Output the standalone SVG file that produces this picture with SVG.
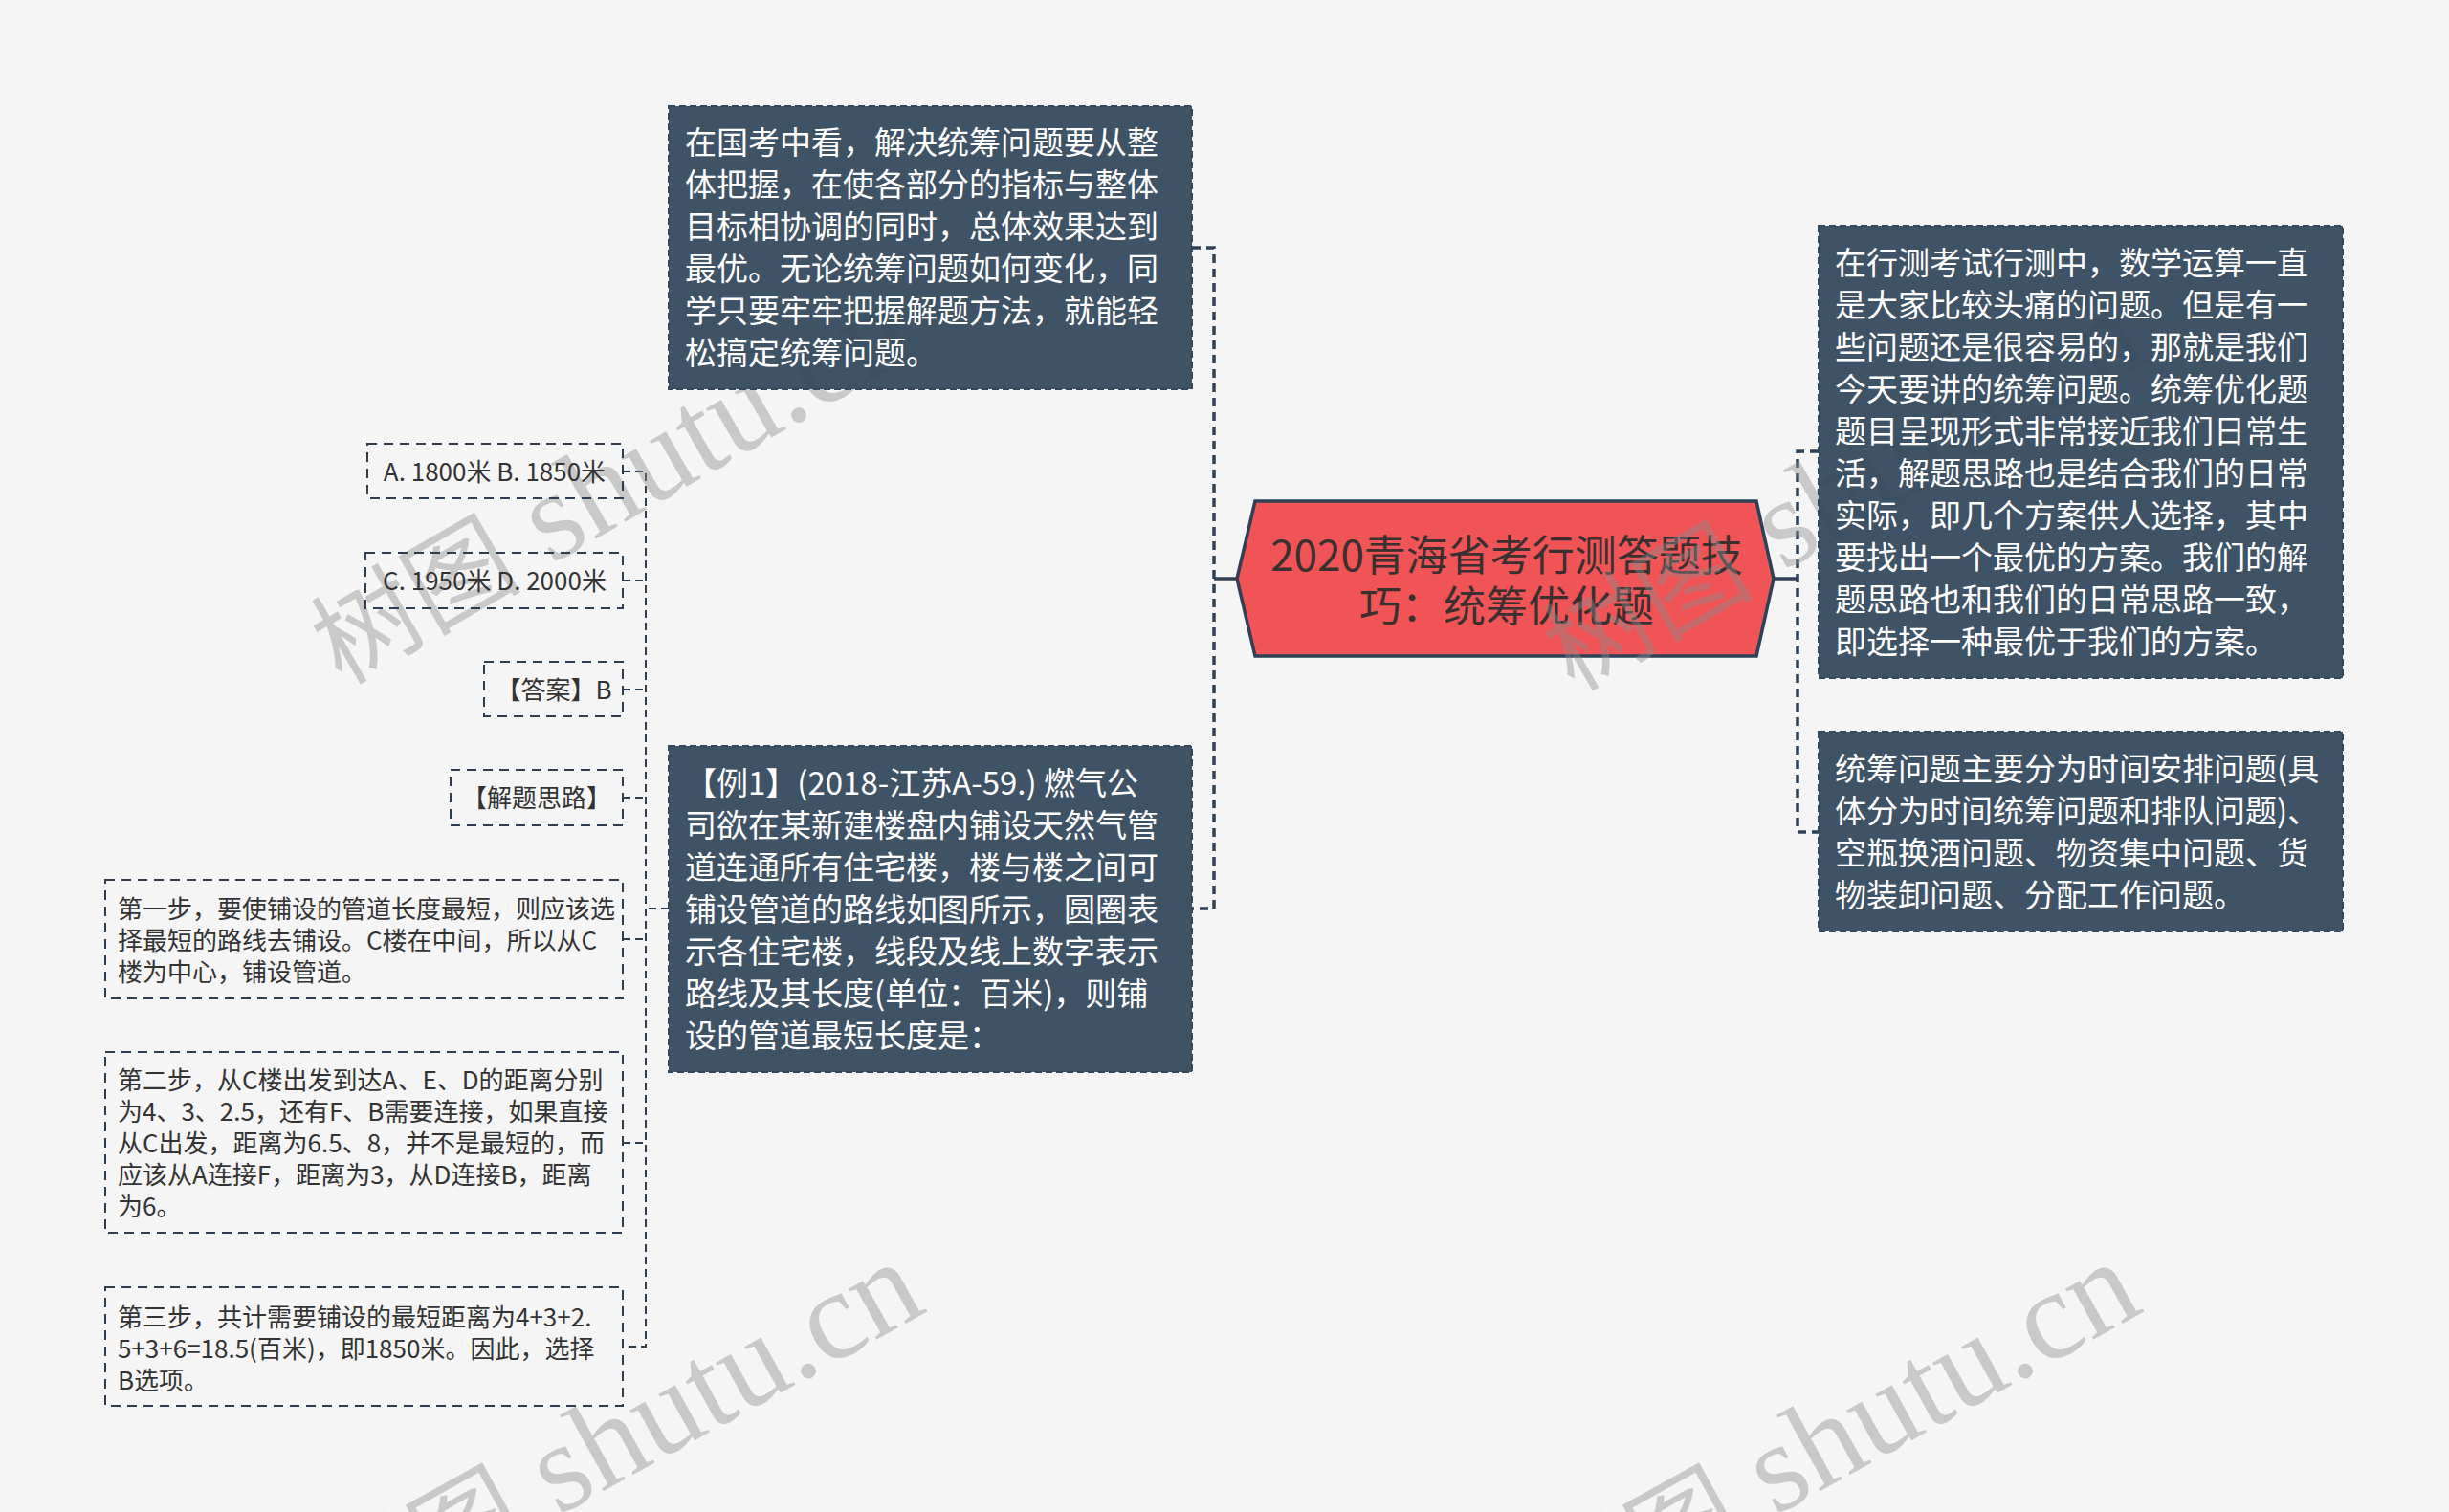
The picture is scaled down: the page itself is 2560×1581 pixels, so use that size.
<svg xmlns="http://www.w3.org/2000/svg" width="2560" height="1581" viewBox="0 0 2560 1581">
<style>
.bg{fill:#f5f5f5}
.dark rect{fill:#33485d;fill-opacity:0.94;stroke:#33485d;stroke-width:2;stroke-dasharray:7 4}
.dark text{font-family:"Noto Sans CJK SC","Noto Sans",sans-serif;font-size:33px;fill:#ffffff}
.light rect{fill:none;stroke:#2f3e4e;stroke-width:2;stroke-dasharray:10 7}
.light text{font-family:"Noto Sans CJK SC","Noto Sans",sans-serif;font-size:26px;fill:#333333}
.root polygon{fill:#f05456;stroke:#2e4156;stroke-width:3.5}
.root text{font-family:"Noto Sans CJK SC","Noto Sans",sans-serif;font-size:44px;fill:#3a3030;text-anchor:middle}
.c1{fill:none;stroke:#2e4156;stroke-width:3.5;stroke-dasharray:9 6}
.c2{fill:none;stroke:#2f3e4e;stroke-width:2;stroke-dasharray:8 5}
.solid{fill:none;stroke:#2e4156;stroke-width:3.5}
.wm{font-family:"Liberation Serif","Noto Sans CJK SC",serif;font-size:110px;fill:#8c8c8c;fill-opacity:0.42}
.wm .lat{font-size:132px}
</style>
<rect class="bg" x="0" y="0" width="2560" height="1581"/>

<g id="connectors">
  <path class="solid" d="M1269,605 H1293"/>
  <path class="c1" d="M1246,259 H1269 V950 H1246"/>
  <path class="solid" d="M1854,605 H1879"/>
  <path class="c1" d="M1901,472 H1879 V870 H1901"/>
  <path class="c2" d="M699,950 H675"/>
  <path class="c2" d="M651,493 H675 V1408 H651"/>
  <path class="c2" d="M651,607 H675"/>
  <path class="c2" d="M651,721 H675"/>
  <path class="c2" d="M651,834 H675"/>
  <path class="c2" d="M651,982 H675"/>
  <path class="c2" d="M651,1195 H675"/>
</g>

<g id="root" class="root">
  <polygon points="1293,605 1312,524 1836,524 1854,605 1836,686 1312,686"/>
  <text x="1575" y="597">2020青海省考行测答题技</text>
  <text x="1575" y="650">巧：统筹优化题</text>
</g>

<g id="watermarks">
  <text class="wm" transform="translate(357,717) rotate(-30)">树图<tspan class="lat"> shutu.cn</tspan></text>
  <text class="wm" transform="translate(1645,724) rotate(-30)">树图<tspan class="lat"> shutu.cn</tspan></text>
  <text class="wm" transform="translate(362,1708) rotate(-29)">树图<tspan class="lat"> shutu.cn</tspan></text>
  <text class="wm" transform="translate(1634,1708) rotate(-29)">树图<tspan class="lat"> shutu.cn</tspan></text>
</g>

<g id="n-intro" class="dark">
  <rect x="699" y="111" width="547" height="296"/>
  <text x="716" y="161">在国考中看，解决统筹问题要从整</text>
  <text x="716" y="205">体把握，在使各部分的指标与整体</text>
  <text x="716" y="249">目标相协调的同时，总体效果达到</text>
  <text x="716" y="293">最优。无论统筹问题如何变化，同</text>
  <text x="716" y="337">学只要牢牢把握解题方法，就能轻</text>
  <text x="716" y="381">松搞定统筹问题。</text>
</g>

<g id="n-example" class="dark">
  <rect x="699" y="780" width="547" height="341"/>
  <text x="716" y="831">【例1】(2018-江苏A-59.) 燃气公</text>
  <text x="716" y="875">司欲在某新建楼盘内铺设天然气管</text>
  <text x="716" y="919">道连通所有住宅楼，楼与楼之间可</text>
  <text x="716" y="963">铺设管道的路线如图所示，圆圈表</text>
  <text x="716" y="1007">示各住宅楼，线段及线上数字表示</text>
  <text x="716" y="1051">路线及其长度(单位：百米)，则铺</text>
  <text x="716" y="1095">设的管道最短长度是：</text>
</g>

<g id="n-right1" class="dark">
  <rect x="1901" y="236" width="548" height="473"/>
  <text x="1918" y="287">在行测考试行测中，数学运算一直</text>
  <text x="1918" y="331">是大家比较头痛的问题。但是有一</text>
  <text x="1918" y="375">些问题还是很容易的，那就是我们</text>
  <text x="1918" y="419">今天要讲的统筹问题。统筹优化题</text>
  <text x="1918" y="463">题目呈现形式非常接近我们日常生</text>
  <text x="1918" y="507">活，解题思路也是结合我们的日常</text>
  <text x="1918" y="551">实际，即几个方案供人选择，其中</text>
  <text x="1918" y="595">要找出一个最优的方案。我们的解</text>
  <text x="1918" y="639">题思路也和我们的日常思路一致，</text>
  <text x="1918" y="683">即选择一种最优于我们的方案。</text>
</g>

<g id="n-right2" class="dark">
  <rect x="1901" y="765" width="548" height="209"/>
  <text x="1918" y="816">统筹问题主要分为时间安排问题(具</text>
  <text x="1918" y="860">体分为时间统筹问题和排队问题)、</text>
  <text x="1918" y="904">空瓶换酒问题、物资集中问题、货</text>
  <text x="1918" y="948">物装卸问题、分配工作问题。</text>
</g>

<g id="n-ab" class="light">
  <rect x="384" y="464" width="267" height="57"/>
  <text x="517" y="503" text-anchor="middle">A. 1800米 B. 1850米</text>
</g>
<g id="n-cd" class="light">
  <rect x="382" y="578" width="269" height="58"/>
  <text x="517" y="617" text-anchor="middle">C. 1950米 D. 2000米</text>
</g>
<g id="n-answer" class="light">
  <rect x="506" y="692" width="145" height="57"/>
  <text x="579" y="731" text-anchor="middle">【答案】B</text>
</g>
<g id="n-idea" class="light">
  <rect x="471" y="805" width="180" height="58"/>
  <text x="561" y="844" text-anchor="middle">【解题思路】</text>
</g>
<g id="n-step1" class="light">
  <rect x="110" y="920" width="541" height="124"/>
  <text x="123" y="960">第一步，要使铺设的管道长度最短，则应该选</text>
  <text x="123" y="993">择最短的路线去铺设。C楼在中间，所以从C</text>
  <text x="123" y="1026">楼为中心，铺设管道。</text>
</g>
<g id="n-step2" class="light">
  <rect x="110" y="1100" width="541" height="189"/>
  <text x="123" y="1139">第二步，从C楼出发到达A、E、D的距离分别</text>
  <text x="123" y="1172">为4、3、2.5，还有F、B需要连接，如果直接</text>
  <text x="123" y="1205">从C出发，距离为6.5、8，并不是最短的，而</text>
  <text x="123" y="1238">应该从A连接F，距离为3，从D连接B，距离</text>
  <text x="123" y="1271">为6。</text>
</g>
<g id="n-step3" class="light">
  <rect x="110" y="1346" width="541" height="124"/>
  <text x="123" y="1387">第三步，共计需要铺设的最短距离为4+3+2.</text>
  <text x="123" y="1420">5+3+6=18.5(百米)，即1850米。因此，选择</text>
  <text x="123" y="1453">B选项。</text>
</g>
</svg>
